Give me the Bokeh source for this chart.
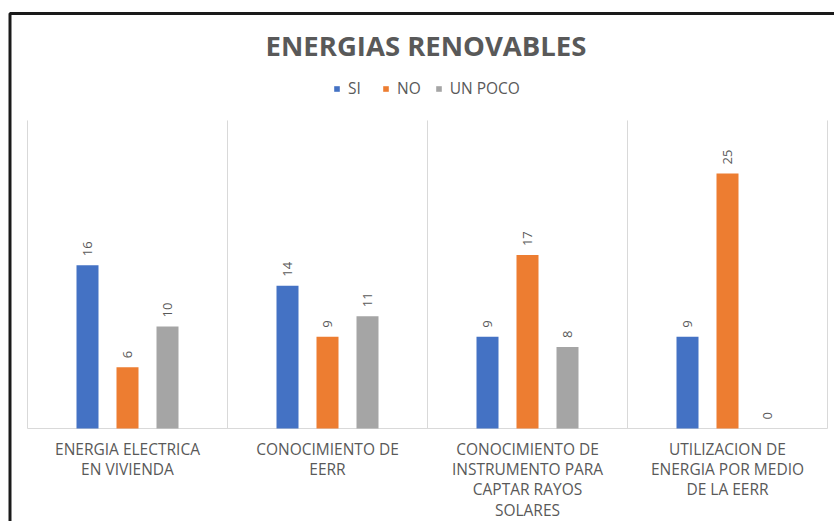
import math
from bokeh.plotting import figure
from bokeh.models import (ColumnDataSource, Range1d, Legend, LegendItem,
                          BoxAnnotation, Label)
from bokeh.transform import dodge
from bokeh.core.properties import value
from bokeh.embed import file_html
from bokeh.resources import INLINE

# ---- data ----
categories = [
    "ENERGIA ELECTRICA EN VIVIENDA",
    "CONOCIMIENTO DE EERR",
    "CONOCIMIENTO DE INSTRUMENTO PARA CAPTAR RAYOS SOLARES",
    "UTILIZACION DE ENERGIA POR MEDIO DE LA EERR",
]
category_labels = [
    "ENERGIA ELECTRICA\nEN VIVIENDA",
    "CONOCIMIENTO DE\nEERR",
    "CONOCIMIENTO DE\nINSTRUMENTO PARA\nCAPTAR RAYOS\nSOLARES",
    "UTILIZACION DE\nENERGIA POR MEDIO\nDE LA EERR",
]
series_names = ["SI", "NO", "UN POCO"]
si = [16, 14, 9, 9]
no = [6, 9, 17, 25]
un_poco = [10, 11, 8, 0]
title_text = "ENERGIAS RENOVABLES"
value_max = 30.2

colors = ["#4472C4", "#ED7D31", "#A5A5A5"]
TEXT = "#595959"
GRID = "#D9D9D9"
FONT = "Open Sans"

W, H = 834, 521
n = len(categories)
cat_px = 200.0           # width of one category slot
left_px = 27             # space left of the first category
base_px = 428            # baseline, from the top of the canvas
px_per_unit = 10.2

xs = [i + 0.5 for i in range(n)]
src = ColumnDataSource(dict(
    x=xs, label=category_labels, zero=[0] * n,
    si=si, no=no, un_poco=un_poco,
    si_t=[str(v) for v in si], no_t=[str(v) for v in no], up_t=[str(v) for v in un_poco],
))

p = figure(width=W, height=H, output_backend="svg", toolbar_location=None,
           x_range=Range1d(-left_px / cat_px, (W - left_px) / cat_px),
           y_range=Range1d(-(H - base_px) / px_per_unit, base_px / px_per_unit),
           x_axis_location=None, y_axis_location=None,
           min_border=0)
p.outline_line_color = None
p.xgrid.grid_line_color = None
p.ygrid.grid_line_color = None
p.background_fill_color = "white"
p.border_fill_color = "white"

# category separators and baseline
bounds = list(range(n + 1))
p.segment(x0=bounds, y0=[0] * (n + 1), x1=bounds, y1=[value_max] * (n + 1),
          line_color=GRID, line_width=1)
p.segment(x0=[0], y0=[0], x1=[n], y1=[0], line_color=GRID, line_width=1)

offsets = [-0.2, 0.0, 0.2]
fields = ["si", "no", "un_poco"]
tfields = ["si_t", "no_t", "up_t"]
renderers = []
for off, f, tf, c in zip(offsets, fields, tfields, colors):
    r = p.vbar(x=dodge("x", off), top=f, width=0.11, source=src,
               fill_color=c, line_color=None)
    renderers.append(r)
    p.text(x=dodge("x", off), y=f, text=tf, source=src,
           angle=math.pi / 2, text_align="left", text_baseline="middle",
           y_offset=-9, text_font=value(FONT), text_font_size="13px", text_color=TEXT)

# category labels
p.text(x="x", y="zero", text="label", source=src, text_align="center",
       text_baseline="top", y_offset=9.5, text_font=value(FONT),
       text_font_size="15.5px", text_color=TEXT, text_line_height=0.92)

legend = Legend(items=[LegendItem(label=s, renderers=[r]) for s, r in zip(series_names, renderers)],
                orientation="horizontal", location=(333, 422),
                label_text_font=FONT, label_text_font_size="15.5px", label_text_color=TEXT,
                glyph_width=7, glyph_height=7, label_standoff=8, spacing=14,
                padding=0, margin=0, border_line_color=None, background_fill_alpha=0)
p.add_layout(legend, "center")

p.add_layout(Label(x=425.5, y=H - 45, x_units="screen", y_units="screen",
                   text=title_text, text_align="center", text_baseline="alphabetic",
                   text_font=FONT, text_font_size="27.5px", text_font_style="bold",
                   text_color=TEXT))

# outer frame (left and top edges visible in the reference)
p.add_layout(BoxAnnotation(left=9.5, right=3000, top=H - 13, bottom=-3000,
                           left_units="screen", right_units="screen",
                           top_units="screen", bottom_units="screen",
                           fill_alpha=0, line_alpha=1, line_color="#1A1A1A", line_width=3))

open("out.html", "w").write(file_html(p, INLINE))
